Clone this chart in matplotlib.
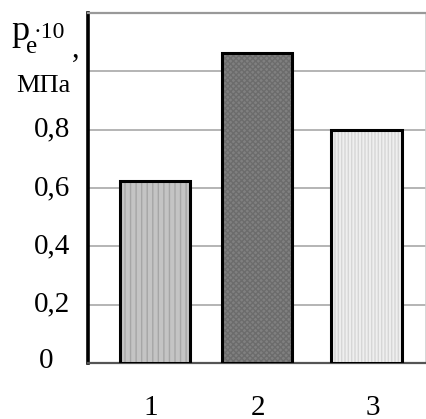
import matplotlib
matplotlib.use("Agg")
import matplotlib.pyplot as plt
from matplotlib.transforms import blended_transform_factory

# data
categories = ["1", "2", "3"]
values = [0.625, 1.063, 0.80]
ytick_values = [0.0, 0.2, 0.4, 0.6, 0.8]
ytick_labels = ["0", "0,2", "0,4", "0,6", "0,8"]

face_colors = ["#c4c4c4", "#808080", "#efefef"]
hatch_colors = ["#a6a6a6", "#6c6c6c", "#d6d6d6"]
hatches = ["|||", "xxxxxx", "|||||"]

W, H = 427, 419
fig = plt.figure(figsize=(W / 100, H / 100), dpi=100)
serif = ["Liberation Serif", "DejaVu Serif"]

def px(x, y):
    return x / W, 1 - y / H

left, right, top, bottom = 88, 426, 13, 363
ax = fig.add_axes([left / W, 1 - bottom / H, (right - left) / W, (bottom - top) / H])

x = [0.962, 1.94, 2.99]
label_x = [0.924, 1.95, 3.05]
width = 0.68
plt.rcParams["hatch.linewidth"] = 1.0
for xi, v, fc, hc, h in zip(x, values, face_colors, hatch_colors, hatches):
    ax.bar(xi, v, width, color=fc, linewidth=0, zorder=3)
    ax.bar(xi, v, width, fill=False, edgecolor=hc, hatch=h, linewidth=0, zorder=4)
    ax.bar(xi, v, width, fill=False, edgecolor="black", linewidth=2.2, zorder=5)

ax.set_xlim(0.32, 3.56)
ax.set_ylim(0, 1.2)
ax.set_yticks([0.2, 0.4, 0.6, 0.8, 1.0])
ax.set_yticklabels([])
ax.tick_params(axis="y", length=0)
ax.yaxis.grid(True, color="#b4b4b4", linewidth=1.4, zorder=1)
ax.set_axisbelow(True)

ax.set_xticks(label_x)
ax.set_xticklabels(categories, fontsize=21, family=serif)
ax.tick_params(axis="x", length=0, pad=23)

ax.spines["left"].set_color("black")
ax.spines["left"].set_linewidth(2.6)
ax.spines["bottom"].set_color("#555555")
ax.spines["bottom"].set_linewidth(1.6)
ax.spines["top"].set_color("#999999")
ax.spines["top"].set_linewidth(1.6)
ax.spines["right"].set_color("#d0d0d0")
ax.spines["right"].set_linewidth(1.2)

# y tick labels as text
tr = blended_transform_factory(fig.transFigure, ax.transData)
for v, lab in zip(ytick_values, ytick_labels):
    if lab == "0":
        ax.text(46 / W, v + 0.008, lab, transform=tr, ha="center", va="center",
                fontsize=21, family=serif)
    else:
        ax.text(70 / W, v, lab, transform=tr, ha="right", va="center",
                fontsize=21, family=serif)

# axis title
fig.text(*px(11, 40), "p", fontsize=26, family=serif, ha="left", va="baseline")
fig.text(*px(26, 53), "e", fontsize=18, family=serif, ha="left", va="baseline")
fig.text(*px(34, 38), "\u00b710", fontsize=17, family=serif, ha="left", va="baseline")
fig.text(*px(72, 57), ",", fontsize=22, family=serif, ha="left", va="baseline")
fig.text(*px(16, 92), "МПа", fontsize=19, family=serif, ha="left", va="baseline")

fig.savefig("out.png", dpi=100)
